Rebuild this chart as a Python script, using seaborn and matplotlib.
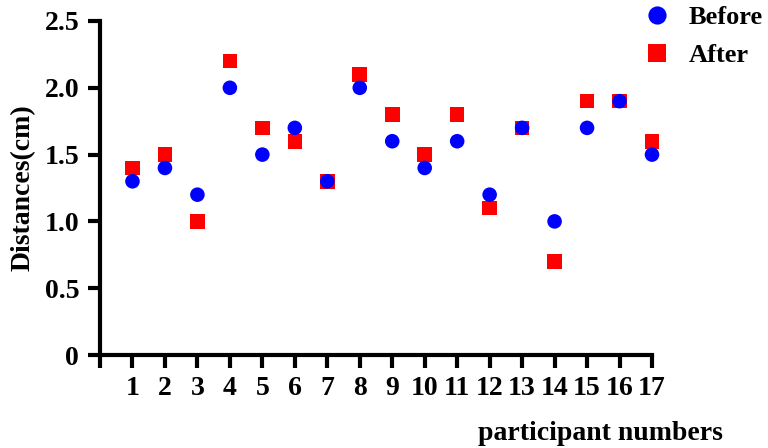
import pandas as pd
import seaborn as sns
import matplotlib.pyplot as plt

participants = list(range(1, 18))
before = [1.3, 1.4, 1.2, 2.0, 1.5, 1.7, 1.3, 2.0, 1.6, 1.4, 1.6, 1.2, 1.7, 1.0, 1.7, 1.9, 1.5]
after = [1.4, 1.5, 1.0, 2.2, 1.7, 1.6, 1.3, 2.1, 1.8, 1.5, 1.8, 1.1, 1.7, 0.7, 1.9, 1.9, 1.6]

data = pd.concat([
    pd.DataFrame({"participant": participants, "distance": after, "group": "After"}),
    pd.DataFrame({"participant": participants, "distance": before, "group": "Before"}),
])

sns.set_style("ticks")
plt.rcParams["font.family"] = ["Liberation Serif", "DejaVu Serif"]
plt.rcParams["font.weight"] = "bold"
plt.rcParams["text.color"] = "black"
plt.rcParams["axes.labelcolor"] = "black"
plt.rcParams["xtick.color"] = "black"
plt.rcParams["ytick.color"] = "black"

fig = plt.figure(figsize=(7.68, 4.48), dpi=100)
ax = fig.add_axes([100 / 768, 1 - 355 / 448, 552 / 768, 334 / 448])

# red squares first, blue circles on top
sns.scatterplot(
    data=data, x="participant", y="distance", hue="group", style="group",
    hue_order=["Before", "After"], style_order=["Before", "After"],
    palette={"Before": "#0000ff", "After": "#ff0000"},
    markers={"Before": "o", "After": "s"},
    s=110, linewidth=0, ax=ax, zorder=3, clip_on=False,
)

ax.set_xlim(0, 17)
ax.set_ylim(0, 2.5)
ax.set_xticks(range(0, 18))
ax.set_xticklabels([""] + [str(p) for p in participants])
ax.set_yticks([0, 0.5, 1.0, 1.5, 2.0, 2.5])
ax.set_yticklabels(["0", "0.5", "1.0", "1.5", "2.0", "2.5"])
ax.tick_params(axis="both", length=9, width=3, labelsize=20, pad=6,
               color="black", labelcolor="black")
for lab in ax.get_xticklabels() + ax.get_yticklabels():
    lab.set_fontweight("bold")

for side in ["top", "right"]:
    ax.spines[side].set_visible(False)
for side in ["left", "bottom"]:
    ax.spines[side].set_linewidth(3)
    ax.spines[side].set_color("black")

ax.set_xlabel("")
ax.set_ylabel("Distances(cm)", fontsize=20, fontweight="bold", labelpad=6, color="black")
fig.text(600 / 768, 1 - 433 / 448, "participant numbers", fontsize=20,
         fontweight="bold", ha="center", va="center", color="black")

handles, labels = ax.get_legend_handles_labels()
leg = ax.legend(handles, labels, loc="upper left", bbox_to_anchor=(644 / 768, 1 - 6 / 448),
                bbox_transform=fig.transFigure, frameon=False,
                markerscale=1.25, handlelength=1.0, handletextpad=0.7,
                labelspacing=0.55, borderpad=0, borderaxespad=0,
                prop={"weight": "bold", "size": 19})
for t in leg.get_texts():
    t.set_color("black")

fig.savefig("out.png", dpi=100)
